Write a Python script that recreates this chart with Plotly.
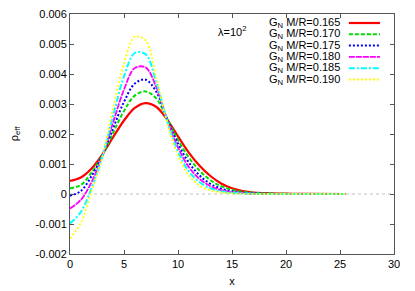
import plotly.graph_objects as go

x = [0, 1, 2, 3, 4, 5, 6, 7, 8, 9, 10, 11, 12, 13, 14, 15, 16, 17, 18, 20, 22, 25.5]

rho_165 = [0.00044, 0.00055, 0.00085, 0.00132, 0.00190, 0.00245, 0.00287, 0.00303, 0.00290, 0.00248,
           0.00192, 0.00138, 0.00094, 0.00060, 0.00035, 0.00019, 0.00010, 0.00005, 0.00003, 0.00001, 0.000003, 0.0]
rho_170 = [0.00019, 0.00030, 0.00072, 0.00130, 0.00205, 0.00277, 0.00328, 0.00342, 0.00318, 0.00250,
           0.00180, 0.00122, 0.00078, 0.00046, 0.00026, 0.00014, 0.00007, 0.00004, 0.00002, 0.000005, 0.0, 0.0]
rho_175 = [-0.00006, 0.00010, 0.00060, 0.00130, 0.00220, 0.00307, 0.00368, 0.00381, 0.00340, 0.00249,
           0.00168, 0.00105, 0.00062, 0.00034, 0.00018, 0.00009, 0.00004, 0.00002, 0.00001, 0.0, 0.0, 0.0]
rho_180 = [-0.00048, -0.00020, 0.00040, 0.00127, 0.00240, 0.00348, 0.00420, 0.00422, 0.00355, 0.00246,
           0.00155, 0.00090, 0.00050, 0.00026, 0.00013, 0.00006, 0.00003, 0.00001, 0.0, 0.0, 0.0, 0.0]
rho_185 = [-0.00098, -0.00060, 0.00020, 0.00125, 0.00262, 0.00392, 0.00470, 0.00466, 0.00370, 0.00243,
           0.00142, 0.00076, 0.00039, 0.00019, 0.00009, 0.00004, 0.00002, 0.00001, 0.0, 0.0, 0.0, 0.0]
rho_190 = [-0.00148, -0.00097, 0.00010, 0.00124, 0.00288, 0.00436, 0.00524, 0.00512, 0.00385, 0.00238,
           0.00128, 0.00062, 0.00028, 0.00012, 0.00005, 0.00002, 0.00001, 0.0, 0.0, 0.0, 0.0, 0.0]

labels = ["G<sub>N</sub> M/R=0.165", "G<sub>N</sub> M/R=0.170", "G<sub>N</sub> M/R=0.175",
          "G<sub>N</sub> M/R=0.180", "G<sub>N</sub> M/R=0.185", "G<sub>N</sub> M/R=0.190"]
series = [rho_165, rho_170, rho_175, rho_180, rho_185, rho_190]

x_ticks = [0, 5, 10, 15, 20, 25, 30]
x_ticktext = ["0", "5", "10", "15", "20", "25", "30"]
y_ticks = [-0.002, -0.001, 0, 0.001, 0.002, 0.003, 0.004, 0.005, 0.006]
y_ticktext = ["-0.002", "-0.001", "0", "0.001", "0.002", "0.003", "0.004", "0.005", "0.006"]

colors = ["#ff0000", "#00e000", "#0000ff", "#ff00ff", "#00ffff", "#ffff00"]
dashes = ["solid", "4px,2px", "2px,2px", "6px,1px", "6px,2px,2px,2px", "2px,2px"]
widths = [2.2, 2, 2, 1.8, 2, 1.8]

FONT = "Liberation Sans, Arial, sans-serif"

fig = go.Figure()
for ys, lab, c, d, w in zip(series, labels, colors, dashes, widths):
    fig.add_trace(go.Scatter(x=x, y=ys, mode="lines", name=lab,
                             line=dict(color=c, dash=d, width=w, shape="spline", smoothing=1.0),
                             showlegend=False))

# zero reference line
fig.add_shape(type="line", xref="paper", x0=0, x1=1, yref="y", y0=0, y1=0,
              line=dict(color="#c0c0c0", width=1, dash="dot"), layer="below")

# page body adds an 8px offset; positions below are in screenshot pixels
OFF = 8
plot_top, plot_bot = 14.0, 254.0
plot_l, plot_r = 70.7, 394.0
def py(pix):
    return (plot_bot - pix) / (plot_bot - plot_top)
def px(pix):
    return (pix - plot_l) / (plot_r - plot_l)

# manual gnuplot-style legend (text right-justified, sample on the right)
row_y = [23, 34.3, 45.6, 56.9, 68.2, 79.5]
for i, (lab, c, d, w) in enumerate(zip(labels, colors, dashes, widths)):
    fig.add_annotation(xref="paper", yref="paper", x=px(342), y=py(row_y[i]),
                       text=lab, showarrow=False, xanchor="right", yanchor="middle",
                       font=dict(family=FONT, size=11, color="black"))
    fig.add_shape(type="line", xref="paper", yref="paper", x0=px(349), x1=px(380),
                  y0=py(row_y[i]), y1=py(row_y[i]), line=dict(color=c, dash=d, width=w))

fig.add_annotation(xref="paper", yref="paper", x=px(232), y=py(31),
                   text="λ=10<sup>2</sup>", showarrow=False, xanchor="center", yanchor="middle",
                   font=dict(family=FONT, size=11, color="black"))

axis_common = dict(showgrid=False, zeroline=False, showline=True, linecolor="#555555", linewidth=1,
                   mirror="ticks", ticks="inside", ticklen=4, tickcolor="#555555",
                   ticklabeloverflow="allow",
                   tickfont=dict(family=FONT, size=11, color="black"))

fig.update_xaxes(range=[0, 30], tickvals=x_ticks, ticktext=x_ticktext,
                 title=dict(text="x", font=dict(family=FONT, size=11, color="black"), standoff=8),
                 **axis_common)
fig.update_yaxes(range=[-0.002, 0.006], tickvals=y_ticks, ticktext=y_ticktext,
                 title=dict(text="ρ<sub>eff</sub>", font=dict(family=FONT, size=11, color="black"), standoff=24),
                 **axis_common)

fig.update_layout(width=415, height=291,
                  margin=dict(l=int(plot_l) - OFF, r=int(415 + OFF - plot_r), t=int(plot_top) - OFF,
                              b=int(291 + OFF - plot_bot), autoexpand=False),
                  paper_bgcolor="white", plot_bgcolor="white",
                  font=dict(family=FONT, size=11, color="black"))

fig.write_html("out.html")
